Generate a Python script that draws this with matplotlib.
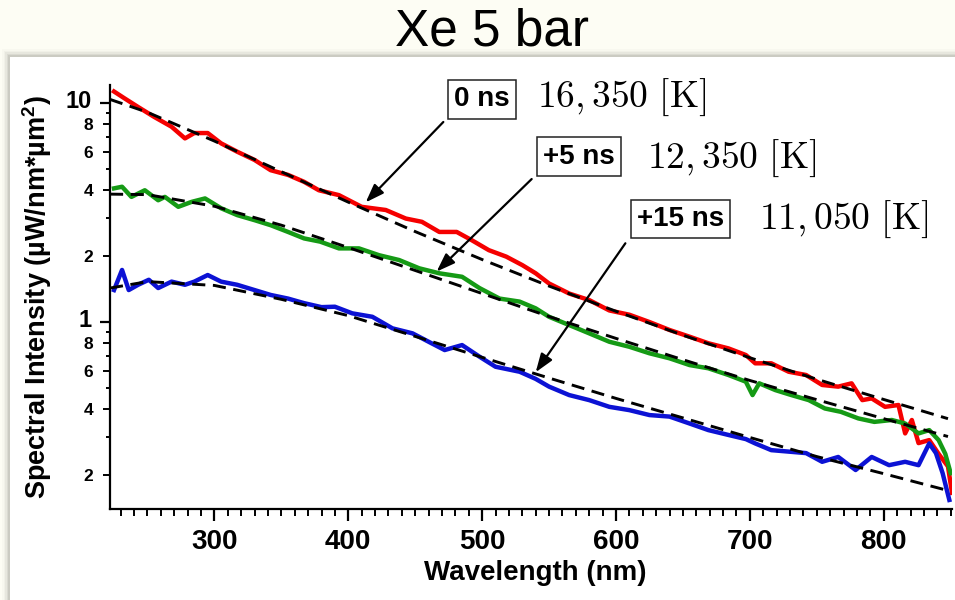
import matplotlib
matplotlib.use("Agg")
import matplotlib.pyplot as plt
from matplotlib.patches import Rectangle
from matplotlib.ticker import FixedLocator, FixedFormatter
from matplotlib.transforms import ScaledTranslation

# spectra (wavelength nm, intensity uW/nm*um^2)
wl_red = [225, 233, 243, 255, 268, 278, 285, 295, 305, 317, 330, 342, 355, 367,
          378, 393, 410, 428, 443, 455, 468, 481, 492, 505, 518, 530, 540, 550,
          565, 580, 595, 610, 625, 640, 655, 669, 684, 697, 704, 716, 729, 742,
          754, 766, 776, 784, 791, 801, 811, 816, 821, 826, 834, 841, 848, 851]
red = [11.3, 10.5, 9.6, 8.65, 7.8, 6.9, 7.3, 7.3, 6.55, 6.0, 5.5, 4.94, 4.7, 4.37,
       4.0, 3.80, 3.36, 3.25, 2.97, 2.87, 2.58, 2.58, 2.37, 2.13, 1.99, 1.82, 1.67, 1.50,
       1.35, 1.26, 1.13, 1.08, 1.00, 0.92, 0.857, 0.80, 0.758, 0.707, 0.648, 0.648, 0.593, 0.573,
       0.516, 0.507, 0.525, 0.44, 0.448, 0.41, 0.418, 0.31, 0.357, 0.28, 0.289, 0.25, 0.219, 0.166]

wl_green = [225, 231, 238, 248, 258, 263, 273, 283, 293, 305, 317, 330, 342, 355,
            367, 379, 393, 408, 423, 438, 453, 468, 485, 498, 513, 528, 540, 550,
            565, 580, 595, 610, 625, 640, 655, 669, 684, 697, 702, 707, 719, 731,
            744, 756, 768, 781, 793, 806, 816, 826, 834, 841, 846, 850]
green = [4.08, 4.15, 3.73, 4.0, 3.6, 3.73, 3.36, 3.54, 3.67, 3.31, 3.08, 2.92, 2.77, 2.58,
         2.41, 2.33, 2.17, 2.17, 2.02, 1.92, 1.76, 1.67, 1.61, 1.43, 1.28, 1.24, 1.155, 1.057,
         0.969, 0.888, 0.813, 0.771, 0.72, 0.683, 0.636, 0.615, 0.573, 0.534, 0.464, 0.525, 0.489, 0.464,
         0.44, 0.403, 0.389, 0.363, 0.35, 0.357, 0.344, 0.31, 0.321, 0.289, 0.25, 0.204]

wl_blue = [225, 231, 236, 243, 251, 258, 268, 278, 285, 295, 305, 317, 330, 342,
           355, 367, 380, 390, 403, 418, 433, 448, 460, 472, 485, 498, 510, 528,
           540, 550, 565, 580, 595, 610, 625, 640, 655, 669, 684, 697, 704, 716,
           729, 742, 754, 766, 779, 791, 804, 816, 826, 834, 839, 844, 849]
blue = [1.40, 1.73, 1.40, 1.48, 1.56, 1.43, 1.53, 1.48, 1.53, 1.64, 1.53, 1.48, 1.40, 1.33,
        1.28, 1.22, 1.17, 1.175, 1.096, 1.057, 0.936, 0.888, 0.813, 0.745, 0.785, 0.695, 0.625, 0.593,
        0.55, 0.507, 0.464, 0.44, 0.41, 0.396, 0.376, 0.37, 0.344, 0.321, 0.305, 0.292, 0.279, 0.26,
        0.256, 0.252, 0.23, 0.242, 0.211, 0.242, 0.222, 0.23, 0.222, 0.279, 0.252, 0.204, 0.154]

# dashed blackbody fits
fit_wl = [222, 250, 300, 350, 400, 450, 500, 550, 600, 650, 700, 750, 800, 848]
fit_red = [10.4, 9.08, 6.71, 4.86, 3.53, 2.59, 1.93, 1.46, 1.12, 0.871, 0.687, 0.548, 0.443, 0.362]
fit_green = [3.84, 3.82, 3.38, 2.77, 2.19, 1.72, 1.35, 1.06, 0.842, 0.673, 0.541, 0.442, 0.362, 0.30]
fit_blue = [1.43, 1.53, 1.47, 1.27, 1.07, 0.86, 0.69, 0.555, 0.448, 0.365, 0.297, 0.243, 0.203, 0.17]

delays = ["0 ns", "+5 ns", "+15 ns"]
temps = ["16,350", "12,350", "11,050"]

plt.rcParams["font.family"] = ["Liberation Sans", "DejaVu Sans"]
plt.rcParams["font.weight"] = "bold"
plt.rcParams["axes.labelweight"] = "bold"
plt.rcParams["mathtext.fontset"] = "custom"
plt.rcParams["mathtext.rm"] = "Liberation Sans:bold"
plt.rcParams["mathtext.bf"] = "Liberation Sans:bold"

fig = plt.figure(figsize=(9.55, 6.0), dpi=100)
fig.patch.set_facecolor("#fdfdf4")

# slide panel with soft shadow on the left and top
px, py = 1 / 955, 1 / 600
for i, a in enumerate([0.04, 0.06, 0.09, 0.13, 0.18]):
    off = (5 - i) * 1.6
    fig.add_artist(Rectangle(((10 - off) * px, 0), 1, 1 - (57 - off) * py,
                             transform=fig.transFigure, fc="#8a8a80", ec="none",
                             alpha=a, zorder=-3))
fig.add_artist(Rectangle((10 * px, 0), 1, 1 - 57 * py, transform=fig.transFigure,
                         fc="white", ec="none", zorder=-2))

fig.text(0.515, 1 - 32 * py, "Xe 5 bar", ha="center", va="center",
         fontsize=37, fontweight="normal")

ax = fig.add_axes([110 * px, 1 - 509 * py, 842 * px, 424 * py])
ax.set_facecolor("none")

ax.plot(wl_red, red, color="#f50000", lw=3.2, zorder=2)
ax.plot(wl_green, green, color="#159a15", lw=3.2, zorder=2)
ax.plot(wl_blue, blue, color="#0c12d4", lw=3.2, zorder=2)
for f in (fit_red, fit_green, fit_blue):
    ax.plot(fit_wl, f, color="black", lw=2.1, dashes=(4.5, 2.6), zorder=3)

ax.set_yscale("log")
ax.set_xlim(222, 851)
ax.set_ylim(0.14, 12.1)

ax.xaxis.set_major_locator(FixedLocator([300, 400, 500, 600, 700, 800]))
ax.xaxis.set_minor_locator(FixedLocator(list(range(230, 851, 10))))
ax.yaxis.set_major_locator(FixedLocator([1, 10]))
ax.yaxis.set_major_formatter(FixedFormatter(["1", "10"]))
minor_vals = [0.2, 0.3, 0.4, 0.5, 0.6, 0.7, 0.8, 0.9, 2, 3, 4, 5, 6, 7, 8, 9]
minor_labs = ["2", "", "4", "", "6", "", "8", "", "2", "", "4", "", "6", "", "8", ""]
ax.yaxis.set_minor_locator(FixedLocator(minor_vals))
ax.yaxis.set_minor_formatter(FixedFormatter(minor_labs))

for s in ("top", "right"):
    ax.spines[s].set_visible(False)
for s in ("left", "bottom"):
    ax.spines[s].set_linewidth(1.6)

ax.tick_params(axis="x", which="major", length=8.5, width=1.6, labelsize=20, pad=6)
ax.tick_params(axis="x", which="minor", length=5, width=1.4)
ax.tick_params(axis="y", which="major", length=7.5, width=1.6, labelsize=17, pad=6)
ax.tick_params(axis="y", which="minor", length=5, width=1.4, labelsize=12.5, pad=7)
for t, v in zip(ax.yaxis.get_minor_ticks(), minor_labs):
    if not v:
        t.tick1line.set_markersize(3)
# nudge the big decade labels up a little so they clear the small "8" below
lift = ScaledTranslation(0, 3 / 72, fig.dpi_scale_trans)
for t in ax.yaxis.get_major_ticks():
    t.label1.set_transform(t.label1.get_transform() + lift)

ax.set_xlabel("Wavelength (nm)", fontsize=20)
ax.set_ylabel("Spectral Intensity (µW/nm*µm$^{2}$)", fontsize=19.5)
ax.xaxis.set_label_coords(0.505, -0.12)
ax.yaxis.set_label_coords(-0.066, 0.5)

# annotations: delay boxes, arrows and fitted temperatures
box_xy = [(500, 10.4), (572, 5.7), (648, 2.95)]
temp_xy = [(541, 10.6), (623, 5.6), (707, 2.95)]
arrow_from = [(471, 8.2), (537, 4.5), (607, 2.29)]
arrow_to = [(413, 3.52), (466, 1.70), (540, 0.59)]
for lab, t, bxy, txy, a0, a1 in zip(delays, temps, box_xy, temp_xy, arrow_from, arrow_to):
    ax.annotate("", xy=a1, xytext=a0,
                arrowprops=dict(arrowstyle="-|>,head_length=0.7,head_width=0.25",
                                color="black", lw=1.6, mutation_scale=16,
                                shrinkA=0, shrinkB=0), zorder=4)
    ax.text(bxy[0], bxy[1], lab, ha="center", va="center", fontsize=20,
            fontweight="bold", zorder=5,
            bbox=dict(boxstyle="square,pad=0.22", fc="white", ec="#222222", lw=1.1))
    ax.text(txy[0], txy[1], r"$%s\ [\mathrm{K}]$" % t, ha="left", va="center",
            fontsize=27, math_fontfamily="cm", zorder=5)

fig.savefig("out.png", dpi=100, facecolor=fig.get_facecolor())
